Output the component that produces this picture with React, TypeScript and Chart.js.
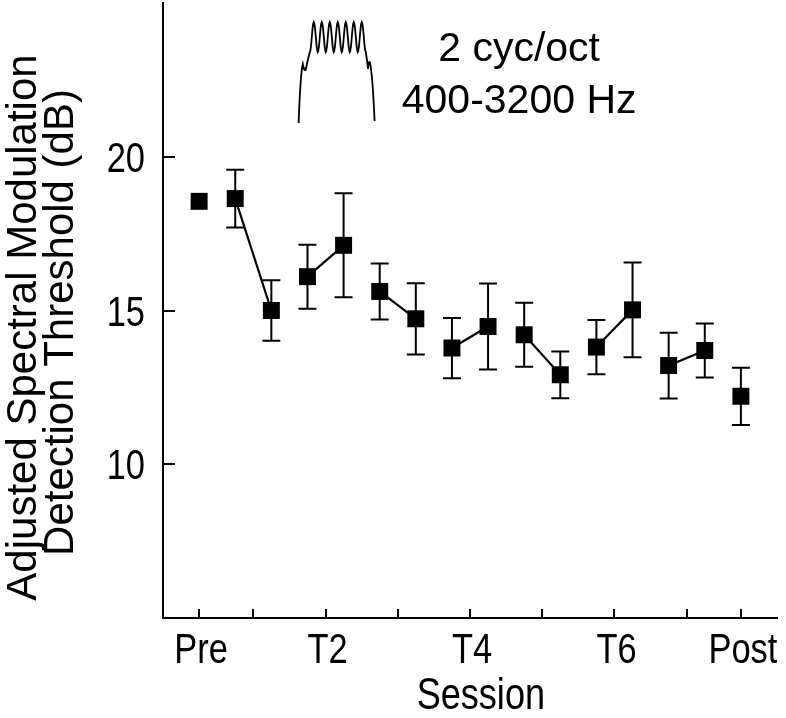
import { useEffect, useRef } from 'react';
import { Chart, registerables } from 'chart.js';

Chart.register(...registerables);

// ---- data ----
const sessionNames = ['Pre', 'T1', 'T2', 'T3', 'T4', 'T5', 'T6', 'T7', 'Post'];
const sessionTickLabels = ['Pre', '', 'T2', '', 'T4', '', 'T6', '', 'Post'];
const sessionPositions = [0.25, 1, 2, 3, 4, 5, 6, 7, 7.75];
const preMean = 18.55;
const postMean = 12.21;
const postError = 0.93;
const firstRunMeans = [18.64, 16.1, 15.62, 13.78, 14.21, 13.81, 13.21];
const secondRunMeans = [15.0, 17.12, 14.73, 14.48, 12.91, 15.02, 13.7];
const firstRunErrors = [0.94, 1.04, 0.91, 0.98, 1.04, 0.88, 1.07];
const secondRunErrors = [0.98, 1.69, 1.16, 1.4, 0.76, 1.54, 0.88];
const yTickValues = [10, 15, 20];
const yTickLabels = ['10', '15', '20'];
const yMin = 5;
const yMax = 25;
const xMin = -0.25;
const xMax = 8.25;
const runOffset = 0.25;
const annotationLines = ['2 cyc/oct', '400-3200 Hz'];
const yTitleLines = ['Adjusted Spectral Modulation', 'Detection Threshold (dB)'];
const xTitle = 'Session';

const FONT = 'Liberation Sans, Arial, Helvetica, sans-serif';
const SQUEEZE = 0.82;

type Pt = { x: number; y: number | null; err: number | null };

function buildPoints(): Pt[] {
  const pts: Pt[] = [];
  pts.push({ x: sessionPositions[0], y: preMean, err: null });
  pts.push({ x: sessionPositions[0] + runOffset, y: null, err: null });
  for (let i = 0; i < firstRunMeans.length; i++) {
    const t = sessionPositions[i + 1];
    pts.push({ x: t - runOffset, y: firstRunMeans[i], err: firstRunErrors[i] });
    pts.push({ x: t + runOffset, y: secondRunMeans[i], err: secondRunErrors[i] });
    pts.push({ x: t + 2 * runOffset, y: null, err: null });
  }
  pts.push({ x: sessionPositions[8], y: postMean, err: postError });
  return pts;
}

function narrowText(ctx: CanvasRenderingContext2D, text: string, x: number, y: number, size: number, align: CanvasTextAlign) {
  ctx.save();
  ctx.translate(x, y);
  ctx.scale(SQUEEZE, 1);
  ctx.font = `${size}px ${FONT}`;
  ctx.textAlign = align;
  ctx.textBaseline = 'alphabetic';
  ctx.fillText(text, 0, 0);
  ctx.restore();
}

const decorPlugin = {
  id: 'decor',
  beforeDatasetsDraw(chart: any) {
    const ctx = chart.ctx;
    const xs = chart.scales.x;
    const ys = chart.scales.y;
    const area = chart.chartArea;
    ctx.save();
    ctx.strokeStyle = '#000';
    ctx.fillStyle = '#000';
    ctx.lineWidth = 2;
    // inward ticks
    for (const v of yTickValues) {
      const py = Math.round(ys.getPixelForValue(v));
      ctx.beginPath();
      ctx.moveTo(area.left, py);
      ctx.lineTo(area.left + 12, py);
      ctx.stroke();
    }
    for (const v of sessionPositions) {
      const px = Math.round(xs.getPixelForValue(v));
      ctx.beginPath();
      ctx.moveTo(px, area.bottom);
      ctx.lineTo(px, area.bottom - 9);
      ctx.stroke();
    }
    // tick labels (condensed face)
    yTickValues.forEach((v, i) => {
      narrowText(ctx, yTickLabels[i], area.left - 18, ys.getPixelForValue(v) + 15, 42, 'right');
    });
    sessionPositions.forEach((v, i) => {
      if (sessionTickLabels[i]) narrowText(ctx, sessionTickLabels[i], xs.getPixelForValue(v) + 2, area.bottom + 45, 42, 'center');
    });
    // x title
    narrowText(ctx, xTitle, xs.getPixelForValue(4.15), area.bottom + 91, 44, 'center');
    // error bars
    const pts: Pt[] = chart.data.datasets[0].data;
    for (const p of pts) {
      if (p.y == null || p.err == null) continue;
      const px = xs.getPixelForValue(p.x);
      const top = ys.getPixelForValue(p.y + p.err);
      const bot = ys.getPixelForValue(p.y - p.err);
      ctx.beginPath();
      ctx.moveTo(px, top);
      ctx.lineTo(px, bot);
      ctx.moveTo(px - 9, top);
      ctx.lineTo(px + 9, top);
      ctx.moveTo(px - 9, bot);
      ctx.lineTo(px + 9, bot);
      ctx.stroke();
    }
    // stimulus icon
    const ox = area.left;
    const oy = area.top;
    ctx.lineWidth = 1.8;
    ctx.beginPath();
    ctx.moveTo(ox + 135.6, oy + 120);
    ctx.quadraticCurveTo(ox + 137.5, oy + 70, ox + 139.8, oy + 61);
    ctx.quadraticCurveTo(ox + 141, oy + 68, ox + 142.6, oy + 67);
    ctx.quadraticCurveTo(ox + 144.5, oy + 58, ox + 146.8, oy + 49);
    const start = 146.8;
    const end = 202.8;
    for (let dx = start; dx <= end + 0.01; dx += 0.5) {
      const y = 34 - 15 * Math.cos((2 * Math.PI * (dx - 150.8)) / 8);
      ctx.lineTo(ox + dx, oy + y);
    }
    ctx.quadraticCurveTo(ox + 204.3, oy + 58, ox + 205, oy + 66);
    ctx.quadraticCurveTo(ox + 205.8, oy + 58, ox + 206.8, oy + 59);
    ctx.quadraticCurveTo(ox + 209.5, oy + 70, ox + 211.6, oy + 118);
    ctx.stroke();
    // annotation text
    ctx.font = `41px ${FONT}`;
    ctx.textAlign = 'center';
    ctx.textBaseline = 'alphabetic';
    ctx.fillText(annotationLines[0], xs.getPixelForValue(4.68), oy + 58);
    ctx.fillText(annotationLines[1], xs.getPixelForValue(4.68), oy + 110);
    // y-axis title
    ctx.save();
    ctx.rotate(-Math.PI / 2);
    ctx.font = `42px ${FONT}`;
    ctx.textBaseline = 'middle';
    ctx.textAlign = 'center';
    ctx.fillText(yTitleLines[0], -((area.top + area.bottom) / 2 + 17), 24);
    ctx.fillText(yTitleLines[1], -((area.top + area.bottom) / 2 + 12), 61);
    ctx.restore();
    ctx.restore();
  },
};

export default function App() {
  const ref = useRef<HTMLCanvasElement | null>(null);
  useEffect(() => {
    if (!ref.current) return;
    Chart.defaults.font.family = FONT;
    Chart.defaults.color = '#000';
    const chart = new Chart(ref.current, {
      type: 'line',
      data: {
        datasets: [
          {
            label: 'Threshold',
            data: buildPoints() as any,
            showLine: true,
            spanGaps: false,
            borderColor: '#000',
            borderWidth: 2.2,
            pointStyle: 'rect',
            pointRadius: 12,
            pointHoverRadius: 12,
            pointBackgroundColor: '#000',
            pointBorderWidth: 0,
            tension: 0,
          } as any,
        ],
      },
      options: {
        animation: false,
        responsive: false,
        parsing: { xAxisKey: 'x', yAxisKey: 'y' } as any,
        layout: { autoPadding: false, padding: { top: 3, right: 9, left: 0, bottom: 0 } },
        plugins: { legend: { display: false }, tooltip: { enabled: false } },
        scales: {
          x: {
            type: 'linear',
            min: xMin,
            max: xMax,
            grid: { display: false, drawTicks: false },
            border: { display: true, color: '#000', width: 2 },
            afterBuildTicks: (s: any) => {
              s.ticks = sessionPositions.map((v) => ({ value: v }));
            },
            afterFit: (s: any) => {
              s.height = 100;
              s.paddingLeft = 0;
              s.paddingRight = 0;
            },
            ticks: { display: false, autoSkip: false, maxRotation: 0 },
            title: { display: false, text: xTitle },
          },
          y: {
            type: 'linear',
            min: yMin,
            max: yMax,
            grid: { display: false, drawTicks: false },
            border: { display: true, color: '#000', width: 2 },
            afterBuildTicks: (s: any) => {
              s.ticks = yTickValues.map((v) => ({ value: v }));
            },
            afterFit: (s: any) => {
              s.width = 163;
              s.paddingTop = 0;
              s.paddingBottom = 0;
            },
            ticks: { display: false },
            title: { display: false },
          },
        },
      },
      plugins: [decorPlugin],
    });
    return () => chart.destroy();
  }, []);
  return (
    <div style={{ position: 'fixed', left: 0, top: 0, width: 786, height: 718, background: '#fff' }}>
      <canvas ref={ref} width={786} height={718} aria-label={sessionNames.join(' ')} />
    </div>
  );
}
